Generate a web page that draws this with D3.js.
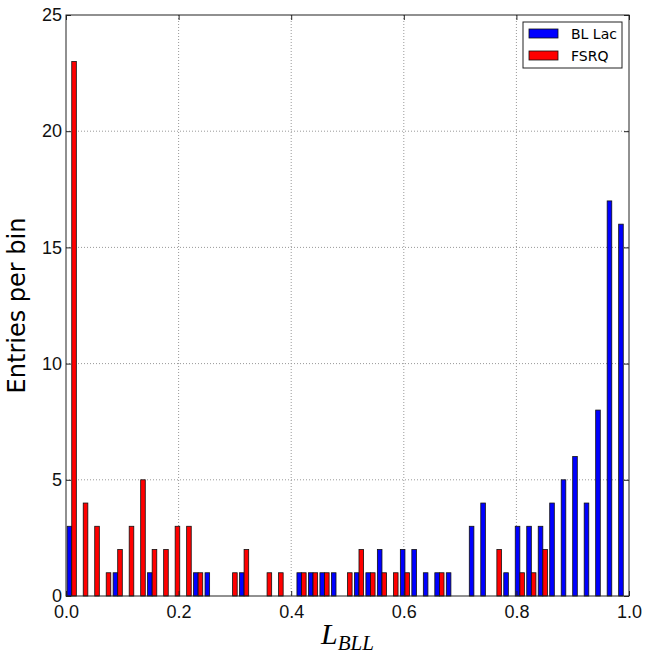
<!DOCTYPE html>
<html>
<head>
<meta charset="utf-8">
<script src="https://cdn.jsdelivr.net/npm/d3@7"></script>
<style>
  body { margin: 0; background: #fff; }
  svg { display: block; font-family: "DejaVu Sans", sans-serif; }
  .axis path { display: none; }
  .axis line { stroke: #222; }
  .axis text { font-size: 18px; fill: #111; }
  .grid line { stroke: #999; stroke-dasharray: 1,2; }
</style>
</head>
<body>
<div id="chart"></div>
<script>
// 49 bins between 0 and 1
var binCount = 49;
var blLac = [3, 0, 0, 0, 1, 0, 0, 1, 0, 0, 0, 1, 1, 0, 0, 1, 0, 0, 0, 0,
             1, 1, 1, 1, 0, 1, 1, 2, 0, 2, 2, 1, 1, 1, 0, 3, 4, 0, 1, 3,
             3, 3, 4, 5, 6, 4, 8, 17, 16];
var fsrq = [23, 4, 3, 1, 2, 3, 5, 2, 2, 3, 3, 1, 0, 0, 1, 2, 0, 1, 1, 0,
            1, 1, 1, 0, 1, 2, 1, 1, 1, 1, 0, 0, 1, 0, 0, 0, 0, 2, 0, 1,
            1, 2, 0, 0, 0, 0, 0, 0, 0];
var seriesNames = ['BL Lac', 'FSRQ'];
var seriesColors = ['#0000ff', '#ff0000'];
var xTicks = [0, 0.2, 0.4, 0.6, 0.8, 1.0];
var yTicks = [0, 5, 10, 15, 20, 25];

var W = 646, H = 655;
var margin = {top: 15, right: 17, bottom: 59, left: 66};
var width = W - margin.left - margin.right,
    height = H - margin.top - margin.bottom;

var svg = d3.select('#chart').append('svg')
    .attr('width', W)
    .attr('height', H)
  .append('g')
    .attr('transform', 'translate(' + margin.left + ',' + margin.top + ')');

var x = d3.scaleLinear().domain([0, 1]).range([0, width]),
    y = d3.scaleLinear().domain([0, 25]).range([height, 0]);

// grid
svg.append('g').attr('class', 'grid')
  .selectAll('line').data(xTicks.slice(1, -1))
  .enter().append('line')
    .attr('x1', function(d) { return x(d); })
    .attr('x2', function(d) { return x(d); })
    .attr('y1', 0).attr('y2', height);
svg.append('g').attr('class', 'grid')
  .selectAll('line').data(yTicks.slice(1, -1))
  .enter().append('line')
    .attr('x1', 0).attr('x2', width)
    .attr('y1', function(d) { return y(d); })
    .attr('y2', function(d) { return y(d); });

// bars, matplotlib style: two bars side by side in 80% of the bin
var binW = 1 / binCount;
var barW = binW * 0.4;
var series = [blLac, fsrq];
series.forEach(function(vals, s) {
  svg.append('g')
    .selectAll('rect')
    .data(vals.map(function(v, i) { return {i: i, v: v}; }).filter(function(d) { return d.v > 0; }))
    .enter().append('rect')
      .attr('x', function(d) { return x(d.i * binW + binW * 0.1 + s * barW); })
      .attr('y', function(d) { return y(d.v); })
      .attr('width', x(barW) - x(0))
      .attr('height', function(d) { return y(0) - y(d.v); })
      .attr('fill', seriesColors[s])
      .attr('stroke', '#111')
      .attr('stroke-width', 0.8);
});

// axes with inward ticks
svg.append('g').attr('class', 'axis')
    .attr('transform', 'translate(0,' + height + ')')
    .call(d3.axisBottom(x).tickValues(xTicks).tickFormat(d3.format('.1f')).tickSize(-5).tickPadding(9));
svg.append('g').attr('class', 'axis')
    .call(d3.axisLeft(y).tickValues(yTicks).tickSize(-5).tickPadding(4));
svg.append('g').attr('class', 'axis')
    .call(d3.axisTop(x).tickValues(xTicks).tickSize(-5).tickFormat(''));
svg.append('g').attr('class', 'axis')
    .attr('transform', 'translate(' + width + ',0)')
    .call(d3.axisRight(y).tickValues(yTicks).tickSize(-5).tickFormat(''));

// frame
svg.append('rect')
    .attr('width', width).attr('height', height)
    .attr('fill', 'none').attr('stroke', '#222').attr('stroke-width', 1);

// axis labels
var xl = svg.append('text')
    .attr('x', width / 2)
    .attr('y', height + 48)
    .attr('text-anchor', 'middle')
    .style('font-family', '"Liberation Serif", serif')
    .style('font-style', 'italic')
    .style('font-size', '30px');
xl.append('tspan').text('L');
xl.append('tspan').attr('dy', 6).style('font-size', '21px').text('BLL');

svg.append('text')
    .attr('transform', 'translate(' + (-41) + ',' + (height / 2) + ') rotate(-90)')
    .attr('text-anchor', 'middle')
    .style('font-size', '24px')
    .text('Entries per bin');

// legend
var legend = svg.append('g')
    .attr('transform', 'translate(' + (width - 106) + ',7)');
legend.append('rect')
    .attr('width', 99).attr('height', 46)
    .attr('fill', '#fff').attr('stroke', '#222');
seriesNames.forEach(function(name, i) {
  legend.append('rect')
      .attr('x', 6).attr('y', 7 + i * 22)
      .attr('width', 29).attr('height', 9)
      .attr('fill', seriesColors[i]).attr('stroke', '#111').attr('stroke-width', 0.8);
  legend.append('text')
      .attr('x', 48).attr('y', 17 + i * 22)
      .style('font-size', '14px')
      .text(name);
});
</script>
</body>
</html>
